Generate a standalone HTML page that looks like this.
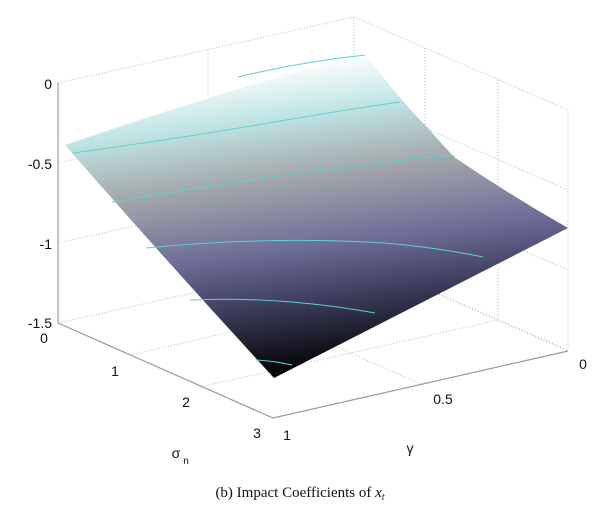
<!DOCTYPE html>
<html><head><style>
body{margin:0;background:#fff}
svg{display:block}
text{font-family:"Liberation Sans",sans-serif;font-size:14px;fill:#111}
</style></head><body>
<svg width="600" height="510" viewBox="0 0 600 510">
<defs>
<linearGradient id="g" gradientUnits="userSpaceOnUse" x1="365" y1="53" x2="405" y2="361">
<stop offset="0" stop-color="#ffffff"/>
<stop offset="0.17" stop-color="#bfe4e4"/>
<stop offset="0.37" stop-color="#a2a6aa"/>
<stop offset="0.6" stop-color="#6c6c98"/>
<stop offset="0.8" stop-color="#34344f"/>
<stop offset="1" stop-color="#000000"/>
</linearGradient>
</defs>
<g stroke="#bbb" stroke-width="1" stroke-dasharray="1,2" fill="none">
<path d="M58,83 L354,17 L568,110"/>
<path d="M58,163 L354,97 L568,190"/>
<path d="M58,243 L354,177 L568,270"/>
<path d="M58,323 L354,257 L568,350"/>
<path d="M354,17 V257"/>
<path d="M208,50 V290"/>
<path d="M425,48 V288"/>
<path d="M498,80 V320"/>
<path d="M568,110 V350"/>
<path d="M130,355 L425,288"/>
<path d="M200,387 L498,320"/>
<path d="M208,290 L423,385"/>
<path d="M354,257 L568,351"/>
</g>
<path d="M58,83 V323" stroke="#888" stroke-width="1"/>
<path d="M58,323 L273,418 L568,351" stroke="#999" stroke-width="1.2" fill="none"/>
<path d="M65,145 Q210,95 365,53 Q395,95 427,127 Q440,142 454,157 Q510,195 568,228 L274,378 Q170,265 65,145 Z" fill="url(#g)"/>
<g stroke="#5fd0d0" stroke-width="1" fill="none">
<path d="M238,77 Q300,62 365,55"/>
<path d="M73,153 Q169,140 269,123 T400,102"/>
<path d="M112,202 Q231,182 346,167 T454,157"/>
<path d="M146,248 Q269,236 385,243 Q440,248 483,257"/>
<path d="M190,300 Q280,296 375,313"/>
<path d="M256,360 Q275,361 292,365"/>
</g>
<g text-anchor="end">
<text x="52" y="89">0</text>
<text x="52" y="169">-0.5</text>
<text x="52" y="249">-1</text>
<text x="52" y="328">-1.5</text>
</g>
<g text-anchor="middle">
<text x="44" y="343">0</text>
<text x="115" y="376">1</text>
<text x="186" y="407">2</text>
<text x="257" y="438">3</text>
<text x="287" y="440">1</text>
<text x="443" y="404">0.5</text>
<text x="583" y="369">0</text>
<text x="410" y="453">γ</text>
<text x="176" y="458">σ</text>
<text x="186" y="464" style="font-size:10px">n</text>
</g>
<text x="300" y="497" text-anchor="middle" style="font-family:'Liberation Serif',serif;font-size:15px">(b) Impact Coefficients of <tspan font-style="italic">x</tspan><tspan font-style="italic" font-size="10" dy="3">t</tspan></text>
</svg>
</body></html>
